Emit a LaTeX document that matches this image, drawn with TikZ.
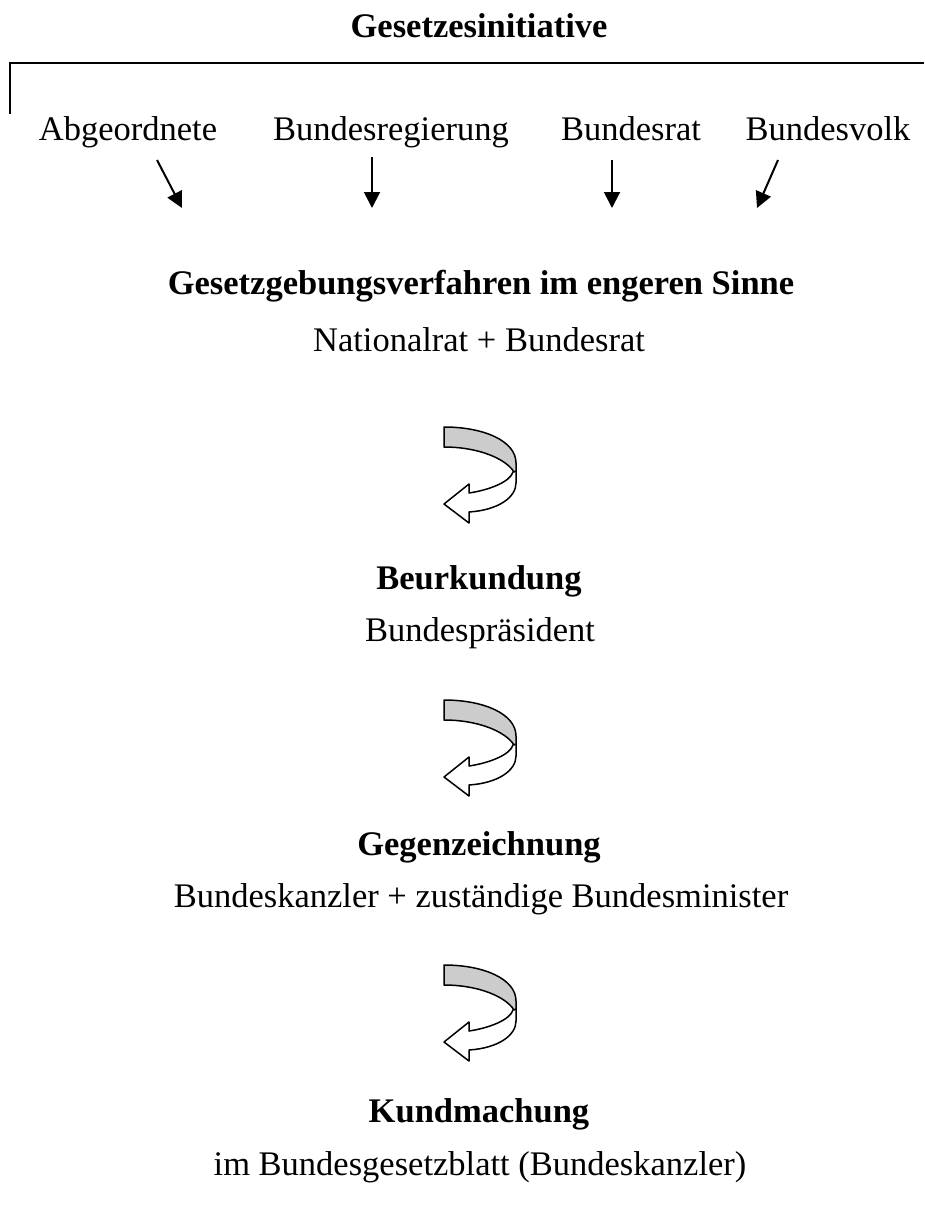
\documentclass[tikz,border=0pt]{standalone}
\usepackage{fontspec}
\setmainfont{Liberation Serif}
\usetikzlibrary{arrows.meta}
\begin{document}
\begin{tikzpicture}[x=1pt,y=-1pt,
  lbl/.style={anchor=base,inner sep=0pt,font=\fontsize{34.5}{40}\selectfont},
  head/.style={anchor=base,inner sep=0pt,font=\fontsize{34.5}{40}\selectfont\bfseries},
  sarrow/.style={line width=2pt,-{Triangle[length=16pt,width=16pt]}},
  bracket/.style={line width=2pt},
  uturn/.pic={
    \draw[line width=1.5pt,fill=white,line join=round]
      (72,42) -- (72,56) .. controls (72,70) and (55,83) .. (25,85)
      -- (25,96) -- (0,77) -- (25,57) -- (25,66)
      .. controls (45,63) and (66,55) .. (69,45) -- cycle;
    \draw[line width=1.5pt,fill=gray!40,line join=round]
      (0,0) .. controls (40,0) and (72,14) .. (72,36) -- (72,44) -- (70,45)
      .. controls (62,32) and (35,20) .. (0,20) -- cycle;
  }]
\useasboundingbox (0,0) rectangle (924,1221);
% title
\node[head] (init) at (479,37) {Gesetzesinitiative};
% bracket
\coordinate (bl) at (10,114);
\coordinate (tl) at (10,63);
\coordinate (tr) at (924,63);
\draw[bracket] (bl) -- (tl) -- (tr);
% initiators
\node[lbl] (abg) at (128,140) {Abgeordnete};
\node[lbl] (breg) at (391,140) {Bundesregierung};
\node[lbl] (brat) at (631,140) {Bundesrat};
\node[lbl] (bvolk) at (828,140) {Bundesvolk};
% arrows
\coordinate (a1s) at (157,160); \coordinate (a1e) at (182,208);
\coordinate (a2s) at (372,157); \coordinate (a2e) at (372,208);
\coordinate (a3s) at (612,160); \coordinate (a3e) at (612,208);
\coordinate (a4s) at (778,160); \coordinate (a4e) at (757,208);
\draw[sarrow] (a1s) -- (a1e);
\draw[sarrow] (a2s) -- (a2e);
\draw[sarrow] (a3s) -- (a3e);
\draw[sarrow] (a4s) -- (a4e);
% steps
\node[head] (gv) at (481,294) {Gesetzgebungsverfahren im engeren Sinne};
\node[lbl] (nr) at (479,351) {Nationalrat + Bundesrat};
\pic (u1) at (444,427) {uturn};
\node[head] (beu) at (479,589) {Beurkundung};
\node[lbl] (bp) at (480,641) {Bundespräsident};
\pic (u2) at (444,700) {uturn};
\node[head] (gz) at (479,855) {Gegenzeichnung};
\node[lbl] (bk) at (481,907) {Bundeskanzler + zuständige Bundesminister};
\pic (u3) at (444,965) {uturn};
\node[head] (km) at (479,1122) {Kundmachung};
\node[lbl] (bgb) at (480,1175) {im Bundesgesetzblatt (Bundeskanzler)};
\end{tikzpicture}
\end{document}
